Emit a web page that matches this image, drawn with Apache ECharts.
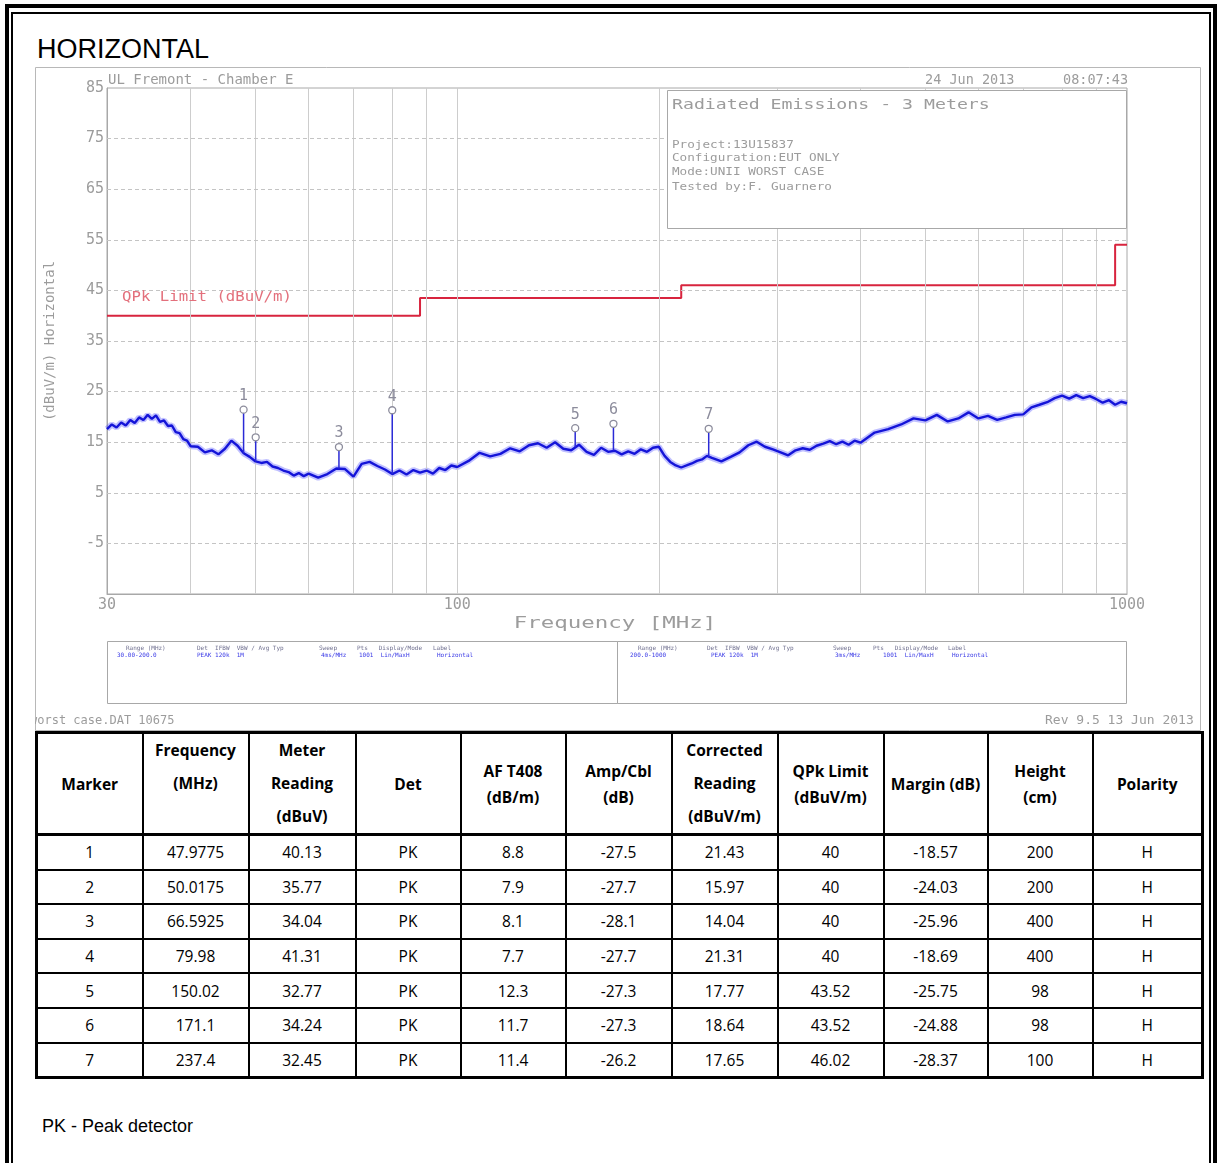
<!DOCTYPE html>
<html>
<head>
<meta charset="utf-8">
<script src="https://cdn.jsdelivr.net/npm/echarts@6/dist/echarts.min.js"></script>
<style>
html,body{margin:0;padding:0;background:#fff;width:1218px;height:1163px;overflow:hidden;}
#outer{position:absolute;left:5px;top:4px;width:1204px;height:1200px;border:4px solid #000;}
#inner{position:absolute;left:11px;top:12px;width:1196px;height:1200px;border:2px solid #000;}
#title{position:absolute;left:37px;top:36px;font-family:"Liberation Sans",Arial,sans-serif;font-size:27px;line-height:27px;color:#000;}
#chart{position:absolute;left:35px;top:67px;width:1166px;height:664px;}
#tbl{position:absolute;left:35px;top:731px;width:1166px;border-collapse:collapse;table-layout:fixed;border:3px solid #000;font-family:"Open Sans","Noto Sans",sans-serif;color:#000;}
#tbl td{border:2px solid #000;text-align:center;vertical-align:middle;padding:0;font-size:15.5px;}
#tbl tr.hd td{font-weight:bold;height:93px;border-bottom:3px solid #000;font-size:15.5px;}
#tbl tr.dr td{height:32.6px;line-height:20px;}
.l33{line-height:33px;}
.l26{line-height:26px;}
#note{position:absolute;left:42px;top:1115px;font-family:"Liberation Sans",Arial,sans-serif;font-size:18px;line-height:22px;color:#000;}
</style>
</head>
<body>
<div id="outer"></div>
<div id="inner"></div>
<div id="title">HORIZONTAL</div>
<div id="chart"></div>
<table id="tbl">
<colgroup>
<col style="width:106px"><col style="width:106px"><col style="width:107px"><col style="width:105px"><col style="width:105px"><col style="width:106px"><col style="width:106px"><col style="width:106px"><col style="width:104px"><col style="width:105px"><col style="width:110px">
</colgroup>
<tbody id="tbody"></tbody>
</table>
<div id="note">PK - Peak detector</div>
<script>
// ---------- trace data ----------
const traceFreq = [
  30,30.5,31,31.5,32,32.5,33,33.5,34,34.5,35,35.5,36,36.5,37,37.5,38,38.5,39,39.5,
  40,41,42,43,44,45,46,47,48,49,50,51,52,53,54,55,56,57,58,59,60,
  62,64,66,68,70,72,74,76,78,80,82,84,86,88,90,92,94,96,98,100,
  104,108,112,116,120,124,128,132,136,140,144,148,152,156,160,164,168,172,176,180,184,188,192,196,200,
  204,208,212,216,220,224,228,232,236,240,
  248,256,264,272,280,288,296,304,312,320,328,336,344,352,360,368,376,384,392,400,
  420,440,460,480,500,520,540,560,580,600,620,640,660,680,700,720,740,760,780,800,820,840,860,880,900,920,940,960,980,1000
];
const traceLevel = [
  17.6,18.5,17.9,18.9,18.3,19.4,18.8,19.9,19.4,20.4,19.6,20.3,19.0,19.3,18.2,18.3,17.0,16.8,15.6,15.3,
  14.2,14.1,13.0,13.4,12.6,13.7,15.3,14.3,12.8,12.1,11.2,10.9,11.1,10.2,9.9,9.4,9.1,8.4,8.9,8.3,8.8,
  8.0,8.7,9.8,9.7,8.2,10.7,11.1,10.3,9.6,8.7,9.4,8.6,9.5,9.0,9.4,8.8,9.9,9.5,10.4,10.1,
  11.3,12.9,12.2,12.7,13.8,13.2,14.4,14.8,13.9,15.0,13.7,13.4,14.5,13.1,12.5,13.9,13.1,13.3,12.6,13.2,12.7,13.6,13.1,13.9,14.1,
  12.3,11.1,10.4,10.0,10.4,10.8,11.3,11.6,12.3,11.9,
  11.2,12.1,13.0,14.4,15.1,14.1,13.6,13.0,12.4,13.4,13.8,13.5,14.3,14.7,15.2,14.6,15.1,14.5,15.3,14.9,
  16.9,17.6,18.5,19.7,19.3,20.4,19.1,19.7,20.9,19.7,20.2,19.4,19.9,20.4,20.5,21.9,22.4,22.9,23.7,24.2,23.6,24.3,23.7,24.1,23.5,22.8,23.3,22.4,23.0,22.7
];
// ---------- QPk limit ----------
const limitFreq  = [30, 88, 88, 216, 216, 960, 960, 1000];
const limitLevel = [40, 40, 43.5, 43.5, 46, 46, 54, 54];
// ---------- marker table ----------
const markerNo      = [1, 2, 3, 4, 5, 6, 7];
const markerFreq    = [47.9775, 50.0175, 66.5925, 79.98, 150.02, 171.1, 237.4];
const meterReading  = [40.13, 35.77, 34.04, 41.31, 32.77, 34.24, 32.45];
const detector      = ['PK','PK','PK','PK','PK','PK','PK'];
const afT408        = [8.8, 7.9, 8.1, 7.7, 12.3, 11.7, 11.4];
const ampCbl        = [-27.5, -27.7, -28.1, -27.7, -27.3, -27.3, -26.2];
const corrected     = [21.43, 15.97, 14.04, 21.31, 17.77, 18.64, 17.65];
const qpkLimit      = [40, 40, 40, 40, 43.52, 43.52, 46.02];
const margin        = [-18.57, -24.03, -25.96, -18.69, -25.75, -24.88, -28.37];
const heightCm      = [200, 200, 400, 400, 98, 98, 100];
const polarity      = ['H','H','H','H','H','H','H'];
const markerBase    = [12.8, 11.2, 9.8, 8.7, 14.0, 13.4, 12.0];  // trace level under each marker spike
// ---------- axes ----------
const yLabelValues = [85, 75, 65, 55, 45, 35, 25, 15, 5, -5];
const yGridValues  = [75, 65, 55, 45, 35, 25, 15, 5, -5];
const xGridFreqs   = [40, 50, 60, 70, 80, 90, 100, 200, 300, 400, 500, 600, 700, 800, 900];

// ---------- table ----------
const tbody = document.getElementById('tbody');
tbody.innerHTML =
 '<tr class="hd">' +
 '<td>Marker</td>' +
 '<td class="l33">Frequency<br>(MHz)<br>&nbsp;</td>' +
 '<td class="l33">Meter<br>Reading<br>(dBuV)</td>' +
 '<td>Det</td>' +
 '<td class="l26">AF T408<br>(dB/m)</td>' +
 '<td class="l26">Amp/Cbl<br>(dB)</td>' +
 '<td class="l33">Corrected<br>Reading<br>(dBuV/m)</td>' +
 '<td class="l26">QPk Limit<br>(dBuV/m)</td>' +
 '<td>Margin (dB)</td>' +
 '<td class="l26">Height<br>(cm)</td>' +
 '<td>Polarity</td></tr>' +
 markerNo.map((n, i) => '<tr class="dr">' + [n, markerFreq[i], meterReading[i], detector[i], afT408[i], ampCbl[i],
   corrected[i], qpkLimit[i], margin[i], heightCm[i], polarity[i]].map(v => '<td>' + v + '</td>').join('') + '</tr>').join('');

// ---------- chart ----------
const GREY = '#9c9c9c';
const MONO = '"DejaVu Sans Mono","Liberation Mono",monospace';
const chart = echarts.init(document.getElementById('chart'));

function txt(x, y, s, size, opts) {
  opts = opts || {};
  return {
    type: 'text', x: x, y: y, z: 20,
    scaleX: opts.sx || 1,
    style: {
      text: s, fill: opts.color || GREY, font: size + 'px ' + MONO,
      align: opts.align || 'left', verticalAlign: 'middle'
    }
  };
}
const legHdr = '#707090', legVal = '#3a3ae6';
const graphics = [
  { type: 'rect', z: 0, shape: { x: 0.5, y: 0.5, width: 1165, height: 663 }, style: { fill: 'none', stroke: '#b8b8b8', lineWidth: 1 } },
  txt(73, 13, 'UL Fremont - Chamber E', 14),
  txt(890, 13, '24 Jun 2013', 13.5),
  txt(1028, 13, '08:07:43', 13.5),
  { type: 'rect', z: 15, shape: { x: 632.5, y: 23.5, width: 459, height: 138 }, style: { fill: '#fff', stroke: '#a8a8a8', lineWidth: 1 } },
  txt(637, 38, 'Radiated Emissions - 3 Meters', 14, { sx: 1.3 }),
  txt(637, 78, 'Project:13U15837', 11, { sx: 1.15 }),
  txt(637, 91, 'Configuration:EUT ONLY', 11, { sx: 1.15 }),
  txt(637, 105, 'Mode:UNII WORST CASE', 11, { sx: 1.15 }),
  txt(637, 120, 'Tested by:F. Guarnero', 11, { sx: 1.15 }),
  txt(87, 230, 'QPk Limit (dBuV/m)', 14, { color: '#e3707c', sx: 1.12 }),
  txt(580, 557, 'Frequency [MHz]', 16, { align: 'center', sx: 1.4 }),
  { type: 'rect', z: 5, shape: { x: 72.5, y: 574.5, width: 510, height: 62 }, style: { fill: 'none', stroke: '#a8a8a8', lineWidth: 1 } },
  { type: 'rect', z: 5, shape: { x: 582.5, y: 574.5, width: 509, height: 62 }, style: { fill: 'none', stroke: '#a8a8a8', lineWidth: 1 } },
  txt(91, 581, 'Range (MHz)', 6, { color: legHdr }),
  txt(162, 581, 'Det  IFBW  VBW / Avg Typ', 6, { color: legHdr }),
  txt(284, 581, 'Sweep', 6, { color: legHdr }),
  txt(322, 581, 'Pts   Display/Mode', 6, { color: legHdr }),
  txt(398, 581, 'Label', 6, { color: legHdr }),
  txt(82, 588, '30.00-200.0', 6, { color: legVal }),
  txt(162, 588, 'PEAK 120k  1M', 6, { color: legVal }),
  txt(286, 588, '4ms/MHz', 6, { color: legVal }),
  txt(324, 588, '1001  Lin/MaxH', 6, { color: legVal }),
  txt(402, 588, 'Horizontal', 6, { color: legVal }),
  txt(603, 581, 'Range (MHz)', 6, { color: legHdr }),
  txt(672, 581, 'Det  IFBW  VBW / Avg Typ', 6, { color: legHdr }),
  txt(798, 581, 'Sweep', 6, { color: legHdr }),
  txt(838, 581, 'Pts   Display/Mode', 6, { color: legHdr }),
  txt(913, 581, 'Label', 6, { color: legHdr }),
  txt(595, 588, '200.0-1000', 6, { color: legVal }),
  txt(676, 588, 'PEAK 120k  1M', 6, { color: legVal }),
  txt(800, 588, '3ms/MHz', 6, { color: legVal }),
  txt(848, 588, '1001  Lin/MaxH', 6, { color: legVal }),
  txt(917, 588, 'Horizontal', 6, { color: legVal }),
  txt(-5, 654, 'worst case.DAT 10675', 12),
  txt(1010, 654, 'Rev 9.5 13 Jun 2013', 13)
];

const traceData = traceFreq.map((f, i) => [f, traceLevel[i]]);
const option = {
  animation: false,
  backgroundColor: '#fff',
  grid: { left: 72, top: 21, right: 74, bottom: 137, show: true, borderColor: '#a8a8a8', borderWidth: 1, backgroundColor: 'transparent' },
  xAxis: {
    type: 'log', logBase: 10, min: 30, max: 1000,
    axisLine: { show: true, onZero: false, lineStyle: { color: '#a8a8a8' } },
    axisTick: { show: false }, splitLine: { show: false }, minorTick: { show: false }, minorSplitLine: { show: false },
    axisLabel: { color: GREY, fontFamily: MONO, fontSize: 15, margin: 4, formatter: v => String(Math.round(v)) }
  },
  yAxis: {
    type: 'value', min: -15, max: 85, interval: 5,
    axisLine: { show: true, onZero: false, lineStyle: { color: '#a8a8a8' } },
    axisTick: { show: false }, splitLine: { show: false },
    axisLabel: { color: GREY, fontFamily: MONO, fontSize: 15, margin: 3, formatter: v => (yLabelValues.indexOf(v) >= 0 ? String(v) : '') },
    name: '(dBuV/m) Horizontal', nameLocation: 'middle', nameRotate: 90, nameGap: 50,
    nameTextStyle: { color: GREY, fontFamily: MONO, fontSize: 14 }
  },
  graphic: { elements: graphics },
  series: [
    {
      name: 'vgrid', type: 'line', data: [], z: 1, silent: true,
      markLine: { silent: true, symbol: 'none', label: { show: false }, animation: false,
        lineStyle: { color: '#cdcdcd', width: 1, type: 'solid' },
        data: xGridFreqs.map(f => ({ xAxis: f })) }
    },
    {
      name: 'hgrid', type: 'line', data: [], z: 1, silent: true,
      markLine: { silent: true, symbol: 'none', label: { show: false }, animation: false,
        lineStyle: { color: '#c4c4c4', width: 1, type: [4, 3] },
        data: yGridValues.map(v => ({ yAxis: v })) }
    },
    {
      name: 'QPk Limit', type: 'line', z: 3, showSymbol: false, silent: true,
      data: limitFreq.map((f, i) => [f, limitLevel[i]]),
      lineStyle: { color: '#d8243e', width: 2 }
    },
    {
      name: 'Trace halo', type: 'line', z: 4, showSymbol: false, silent: true, sampling: null,
      data: traceData,
      lineStyle: { color: '#4a4aff', width: 6, opacity: 0.35 }
    },
    {
      name: 'Trace', type: 'line', z: 5, showSymbol: false, silent: true, sampling: null,
      data: traceData,
      lineStyle: { color: '#1414d8', width: 2.4 }
    },
    {
      name: 'Markers', type: 'custom', z: 6, silent: true,
      data: markerNo.map((n, i) => [markerFreq[i], corrected[i], markerBase[i], n]),
      encode: { x: 0, y: 1 },
      renderItem: function (params, api) {
        const f = api.value(0), v = api.value(1), b = api.value(2), n = api.value(3);
        const top = api.coord([f, v]);
        const bot = api.coord([f, b]);
        return {
          type: 'group',
          children: [
            { type: 'line', shape: { x1: top[0], y1: top[1], x2: bot[0], y2: bot[1] }, style: { stroke: '#2a2ad6', lineWidth: 1.5 } },
            { type: 'circle', shape: { cx: top[0], cy: top[1], r: 3.5 }, style: { stroke: '#8c8c9c', fill: '#fff', lineWidth: 1.3 } },
            { type: 'text', x: top[0], y: top[1] - 6, style: { text: String(n), fill: '#8c8c9c', font: '15px ' + MONO, align: 'center', verticalAlign: 'bottom' } }
          ]
        };
      }
    }
  ]
};
chart.setOption(option);
</script>
</body>
</html>
